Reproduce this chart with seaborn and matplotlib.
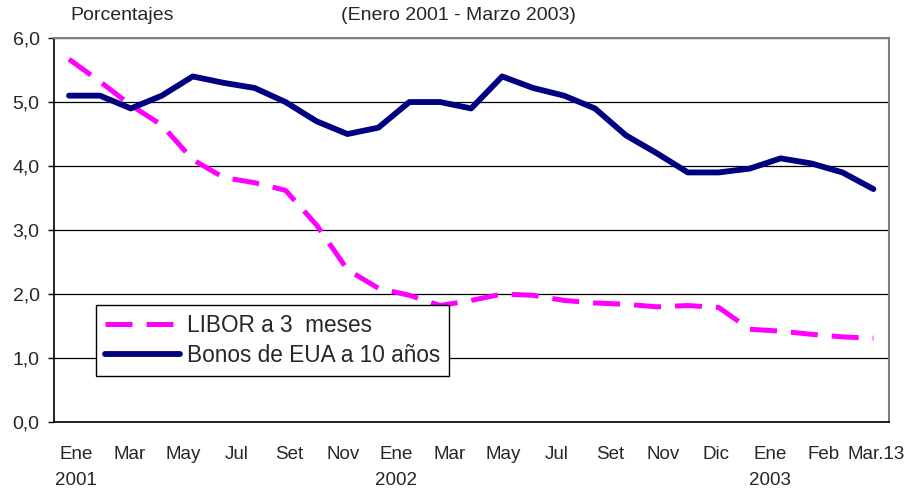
"""Tasas de interés: LIBOR a 3 meses y bonos de EUA a 10 años (Ene 2001 - Mar 2003)."""

import matplotlib

matplotlib.use("Agg")
import matplotlib.pyplot as plt
import numpy as np
import pandas as pd
import seaborn as sns


# Monthly observations, Jan 2001 .. Mar 2003 (27 months)
LIBOR_3M = [5.67, 5.32, 4.95, 4.64, 4.10, 3.82, 3.74, 3.62, 3.08, 2.38,
            2.09, 1.98, 1.82, 1.90, 2.00, 1.98, 1.90, 1.86, 1.84, 1.80,
            1.82, 1.79, 1.45, 1.42, 1.37, 1.33, 1.31]
BONOS_10Y = [5.10, 5.10, 4.90, 5.10, 5.40, 5.30, 5.22, 5.00, 4.70, 4.50,
             4.60, 5.00, 5.00, 4.90, 5.40, 5.22, 5.10, 4.90, 4.48, 4.20,
             3.90, 3.90, 3.96, 4.12, 4.04, 3.90, 3.64]
TICK_LABELS = ["Ene\n2001", "Mar", "May", "Jul", "Set", "Nov", "Ene\n2002",
               "Mar", "May", "Jul", "Set", "Nov", "Dic", "Ene\n2003", "Feb",
               "Mar.13"]
Y_TICKS = [0, 1, 2, 3, 4, 5, 6]

SERIES_NAMES = ["LIBOR a 3  meses", "Bonos de EUA a 10 años"]


def build_dataframe():
    months = np.arange(len(LIBOR_3M))
    return pd.DataFrame({"mes": months, "libor": LIBOR_3M, "bonos": BONOS_10Y})


def main():
    sns.set_theme(style="white")
    plt.rcParams["font.family"] = ["Liberation Sans", "DejaVu Sans"]

    df = build_dataframe()

    fig = plt.figure(figsize=(9.1, 4.91), dpi=100)
    ax = fig.add_axes([0.0588, 0.1405, 0.918, 0.782])

    sns.lineplot(data=df, x="mes", y="libor", ax=ax, color="#FF00FF",
                 linewidth=3.6, linestyle=(0, (5.4, 2.8)),
                 label=SERIES_NAMES[0])
    sns.lineplot(data=df, x="mes", y="bonos", ax=ax, color="#000080",
                 linewidth=4.2, label=SERIES_NAMES[1])

    ax.set_xlim(-0.5, len(LIBOR_3M) - 0.5)
    ax.set_ylim(0, 6)

    ax.set_yticks(Y_TICKS)
    ax.set_yticklabels([f"{v:.1f}".replace(".", ",") for v in Y_TICKS],
                       fontsize=14)
    ax.tick_params(axis="y", which="major", left=True, length=4, width=1,
                   color="black", pad=6)

    tick_pos = np.linspace(0.23, 26.1, len(TICK_LABELS))
    ax.set_xticks(tick_pos)
    ax.set_xticklabels(TICK_LABELS, fontsize=13.5, linespacing=1.75)
    ax.tick_params(axis="x", bottom=False, pad=11)
    for lbl in ax.get_xticklabels():
        lbl.set_verticalalignment("top")

    ax.set_xlabel("")
    ax.set_ylabel("")

    ax.grid(axis="y", color="black", linewidth=0.9)
    ax.grid(axis="x", visible=False)
    ax.set_axisbelow(True)

    for side in ["left", "bottom"]:
        ax.spines[side].set_color("black")
        ax.spines[side].set_linewidth(1.2)
    for side in ["top", "right"]:
        ax.spines[side].set_color("#808080")
        ax.spines[side].set_linewidth(1.5)

    leg = ax.legend(loc="lower left", bbox_to_anchor=(0.051, 0.12),
                    fontsize=16.3, frameon=True, fancybox=False,
                    edgecolor="black", framealpha=1, handlelength=3.3,
                    handletextpad=0.3, borderpad=0.4, labelspacing=0.3,
                    borderaxespad=0)
    leg.get_frame().set_linewidth(1.0)

    fig.text(70 / 910, 1 - 16 / 491, "Porcentajes", fontsize=14,
             ha="left", va="center")
    fig.text(458 / 910, 1 - 15 / 491, "(Enero 2001 - Marzo 2003)",
             fontsize=14, ha="center", va="center")

    fig.savefig("out.png", dpi=100)
    plt.close(fig)


if __name__ == "__main__":
    main()
